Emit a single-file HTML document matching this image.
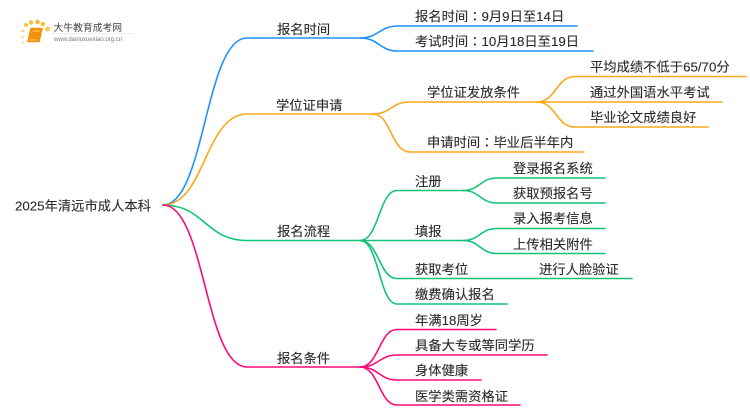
<!DOCTYPE html>
<html><head><meta charset="utf-8"><style>
html,body{margin:0;padding:0;background:#fff;width:750px;height:410px;overflow:hidden}
svg{display:block}
text{font-family:"Liberation Sans","Noto Sans CJK SC",sans-serif;font-size:13.3px;fill:#2a2a2a;stroke:#2a2a2a;stroke-width:.12}
.c{font-family:"Noto Sans CJK TC",sans-serif}
path{fill:none;stroke-width:1.6;stroke-linecap:round}
.b path{stroke:#1e90ff}.o path{stroke:#f9a81a}.g path{stroke:#12c277}.p path{stroke:#ff0a78}
</style></head><body>
<svg width="750" height="410" viewBox="0 0 750 410" xmlns="http://www.w3.org/2000/svg">
<!-- logo -->
<g>
<circle cx="26" cy="25" r="2" fill="#f8c14a"/><circle cx="31" cy="22.5" r="2.2" fill="#f9bd3e"/><circle cx="37.500" cy="22" r="2.300" fill="#f9b82e"/><circle cx="43" cy="24" r="2.300" fill="#f9bd3e"/><circle cx="47.5" cy="29" r="2.500" fill="#fbc850"/><circle cx="22.500" cy="31" r="1.400" fill="#fbd27a"/><circle cx="22.500" cy="37" r="1.200" fill="#fbd27a"/><circle cx="23.5" cy="42.500" r="1" fill="#fbd27a"/>
<path d="M31 28.500H42L39 41.500H28Z" style="fill:#f39208;stroke:#f39208;stroke-width:1.500;stroke-linejoin:round"/>
<path d="M33 31H39.500M30 40H37" style="stroke:#ffd37a;stroke-width:1"/>
<text x="53.500" y="31" style="font-size:9.800px;fill:#444;stroke:none">大牛教育成考网</text>
<text x="54" y="41" style="font-size:6px;fill:#777;stroke:none">www.daniuxuexiao.org.cn</text>
<path d="M53 33.500H133" style="stroke:#eee;stroke-width:1"/>
</g>
<g class="b">
<path d="M163 205C205 205 205 38 247 38H360"/>
<path d="M360 38C379 38 379 26 398 26H577"/>
<path d="M360 38C379 38 379 51 398 51H593"/>
</g>
<g class="o">
<path d="M163 205C205 205 205 114 247 114H373"/>
<path d="M373 114C391 114 391 102 410 102H537"/>
<path d="M373 114C391 114 391 152 410 152H584"/>
<path d="M537 102C556 102 556 76.500 575 76.500H746"/>
<path d="M537 102H722"/>
<path d="M537 102C556 102 556 127 575 127H708"/>
</g>
<g class="g">
<path d="M163 205C205 205 205 240.500 247 240.500H360"/>
<path d="M360 240.500C379 240.500 379 190.500 397 190.500H463"/>
<path d="M360 240.500H463"/>
<path d="M360 240.500C379 240.500 379 278.500 397 278.500H632"/>
<path d="M360 240.500C379 240.500 379 304 397 304H507"/>
<path d="M463 190.500C480 190.500 480 178 497 178H605"/>
<path d="M463 190.500C480 190.500 480 203 497 203H605"/>
<path d="M463 240.500C480 240.500 480 228.500 497 228.500H605"/>
<path d="M463 240.500C480 240.500 480 253.500 497 253.500H605"/>
</g>
<g class="p">
<path d="M163 205C205 205 205 367 247 367H360"/>
<path d="M360 367C379 367 379 329.500 397 329.500H496"/>
<path d="M360 367C379 367 379 355 397 355H547"/>
<path d="M360 367C379 367 379 380 397 380H481"/>
<path d="M360 367C379 367 379 405 397 405H520"/>
</g>
<text x="15" y="210.500">2025年清远市成人本科</text>
<text x="277" y="34">报名时间</text>
<text x="415" y="21">报名时间<tspan class="c">：</tspan>9月9日至14日</text>
<text x="415" y="46">考试时间<tspan class="c">：</tspan>10月18日至19日</text>
<text x="276" y="110">学位证申请</text>
<text x="427" y="97">学位证发放条件</text>
<text x="590" y="71.500">平均成绩不低于65/70分</text>
<text x="590" y="97">通过外国语水平考试</text>
<text x="590" y="122">毕业论文成绩良好</text>
<text x="427" y="147">申请时间<tspan class="c">：</tspan>毕业后半年内</text>
<text x="277" y="236">报名流程</text>
<text x="415" y="186">注册</text>
<text x="513" y="173">登录报名系统</text>
<text x="513" y="198">获取预报名号</text>
<text x="415" y="236">填报</text>
<text x="513" y="223">录入报考信息</text>
<text x="513" y="249">上传相关附件</text>
<text x="415" y="274">获取考位</text>
<text x="539" y="274">进行人脸验证</text>
<text x="415" y="299">缴费确认报名</text>
<text x="277" y="363">报名条件</text>
<text x="415" y="325">年满18周岁</text>
<text x="415" y="350">具备大专或等同学历</text>
<text x="415" y="375">身体健康</text>
<text x="415" y="401">医学类需资格证</text>
</svg>
</body></html>
